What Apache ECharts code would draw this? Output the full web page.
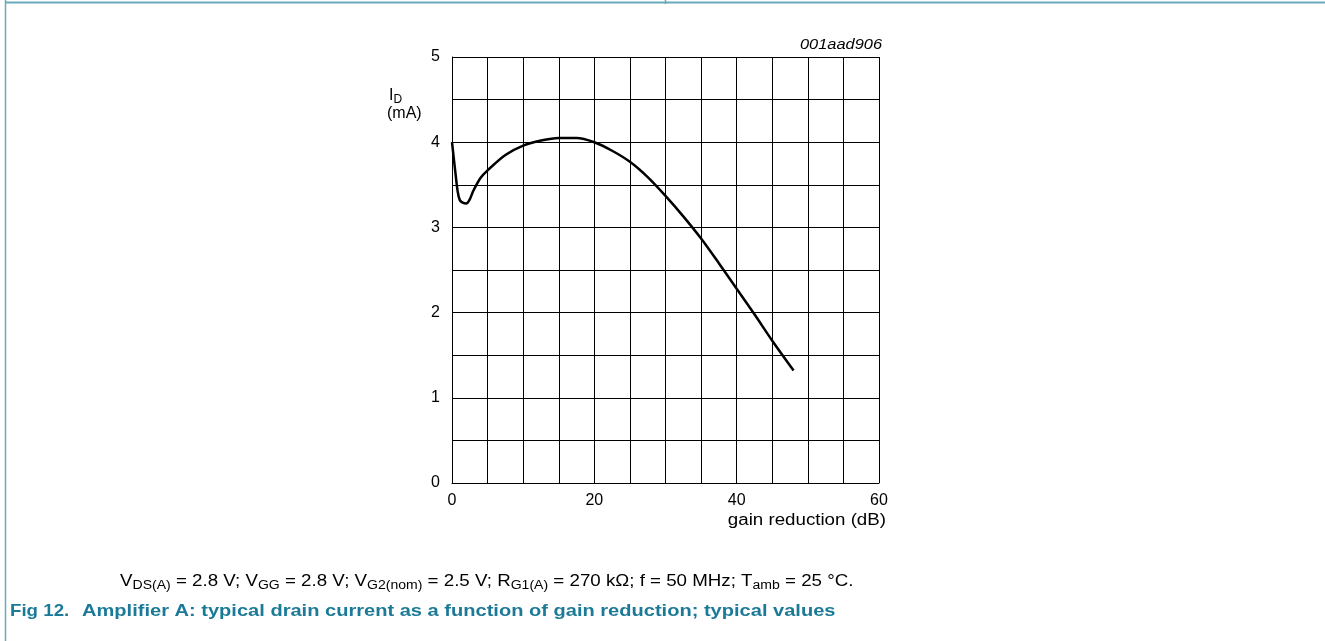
<!DOCTYPE html>
<html>
<head>
<meta charset="utf-8">
<script src="https://cdn.jsdelivr.net/npm/echarts@6/dist/echarts.min.js"></script>
<style>
  html, body { margin: 0; padding: 0; background: #fff; }
  #chart { width: 1325px; height: 641px; }
</style>
</head>
<body>
<div id="chart"></div>
<script>
// Gain reduction (dB) and drain current I_D (mA) for amplifier A
const gainReduction = [0, 0.4, 0.8, 1.1, 1.5, 2, 2.5, 3, 4, 5, 7.5, 10, 12.5, 15, 17.5, 20, 22.5, 25, 27.5, 30, 32.5, 35, 37.5, 40, 42.5, 45, 48];
const drainCurrent  = [4.0, 3.7, 3.42, 3.32, 3.29, 3.28, 3.33, 3.43, 3.58, 3.67, 3.85, 3.96, 4.02, 4.05, 4.05, 4.0, 3.9, 3.77, 3.59, 3.37, 3.13, 2.87, 2.58, 2.28, 1.98, 1.67, 1.32];

const xLabeled = [0, 20, 40, 60];
const yLabeled = [0, 1, 2, 3, 4, 5];

const FONT = '"Liberation Sans", Arial, Helvetica, sans-serif';
const TEAL = '#1b7a97';
const FRAME = '#6aa9b9';
const WIDE = 1.17; // horizontal stretch of the annotation text

const chart = echarts.init(document.getElementById('chart'), null, { renderer: 'canvas' });

const sub = { fontSize: 12, fontFamily: FONT, color: '#000', padding: [7, 0, 0, 0] };
const main = { fontSize: 16, fontFamily: FONT, color: '#000' };

function label(x, y, text, extra, sx) {
  return {
    type: 'text', x: x, y: y, scaleX: sx || WIDE,
    style: Object.assign({ text: text, textVerticalAlign: 'middle', fill: '#000', font: '16px ' + FONT }, extra || {})
  };
}

chart.setOption({
  animation: false,
  backgroundColor: '#fff',
  grid: { left: 452, top: 57, width: 427, height: 426, containLabel: false },
  xAxis: {
    type: 'value', min: 0, max: 60, interval: 5,
    axisLine: { show: true, lineStyle: { color: '#000', width: 1 } },
    axisTick: { show: false },
    splitLine: { show: true, lineStyle: { color: '#000', width: 1 } },
    axisLabel: {
      color: '#000', fontSize: 16, fontFamily: FONT, margin: 10,
      formatter: v => (xLabeled.includes(v) ? String(v) : '')
    }
  },
  yAxis: {
    type: 'value', min: 0, max: 5, interval: 0.5,
    axisLine: { show: true, lineStyle: { color: '#000', width: 1 } },
    axisTick: { show: false },
    splitLine: { show: true, lineStyle: { color: '#000', width: 1 } },
    axisLabel: {
      color: '#000', fontSize: 16, fontFamily: FONT, margin: 12,
      formatter: v => (yLabeled.includes(v) ? String(v) : '')
    }
  },
  series: [{
    type: 'line',
    data: gainReduction.map((x, i) => [x, drainCurrent[i]]),
    smooth: 0.3,
    showSymbol: false,
    lineStyle: { color: '#000', width: 2.5 }
  }],
  graphic: [
    // page frame
    { type: 'line', shape: { x1: 5.5, y1: 0, x2: 5.5, y2: 641 }, style: { stroke: FRAME, lineWidth: 1.5 } },
    { type: 'line', shape: { x1: 5, y1: 2.5, x2: 1325, y2: 2.5 }, style: { stroke: FRAME, lineWidth: 2 } },
    { type: 'line', shape: { x1: 665.5, y1: 0, x2: 665.5, y2: 4 }, style: { stroke: FRAME, lineWidth: 1.5 } },
    // figure code
    label(882, 45, '001aad906', { textAlign: 'right', font: 'italic 14px ' + FONT }),
    // y axis name
    label(389, 96, '{m|I}{s|D}', { rich: { m: main, s: sub } }, 1),
    label(387, 114, '(mA)', null, 1),
    // x axis name
    label(886, 521, 'gain reduction (dB)', { textAlign: 'right' }),
    // conditions
    label(120, 582,
      '{m|V}{s|DS(A)}{m| = 2.8 V; V}{s|GG}{m| = 2.8 V; V}{s|G2(nom)}{m| = 2.5 V; R}{s|G1(A)}{m| = 270 kΩ; f = 50 MHz; T}{s|amb}{m| = 25 °C.}',
      { rich: { m: main, s: sub } }),
    // caption
    label(10, 611, 'Fig 12.', { fill: TEAL, font: 'bold 17px ' + FONT }, 1.1),
    label(82, 611, 'Amplifier A: typical drain current as a function of gain reduction; typical values',
      { fill: TEAL, font: 'bold 17px ' + FONT }, 1.18)
  ]
});
</script>
</body>
</html>
